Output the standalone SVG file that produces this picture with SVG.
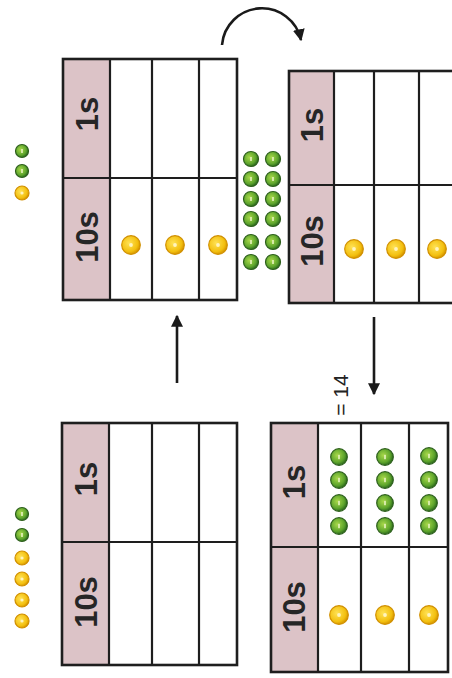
<svg xmlns="http://www.w3.org/2000/svg" width="452" height="678" viewBox="0 0 452 678">
<style>
.hdr{fill:#dcc3c7}
.body{fill:#ffffff}
.ln{stroke:#1e1e1e;stroke-width:2.2;fill:none}
.out{stroke:#1e1e1e;stroke-width:2.6;fill:none}
.lbl{font-family:"Liberation Sans",Arial,sans-serif;font-weight:bold;font-size:31px;fill:#262626;text-anchor:middle}
.eq{font-family:"Liberation Sans",Arial,sans-serif;font-size:21px;fill:#222;text-anchor:middle}
.arr{stroke:#1a1a1a;stroke-width:2.6;fill:none}
.gd{fill:url(#gg);stroke:#2d5f1c;stroke-width:1.2}
.yd{fill:url(#yg);stroke:#d08f00;stroke-width:1.2}
.gm{fill:#e8f3c0}
.ym{fill:#fff4c0}
</style>
<defs>
<radialGradient id="gg" cx="0.4" cy="0.4" r="0.6">
<stop offset="0" stop-color="#a8d84a"/>
<stop offset="0.7" stop-color="#5ea52c"/>
<stop offset="1" stop-color="#2f6e1e"/>
</radialGradient>
<radialGradient id="yg" cx="0.4" cy="0.4" r="0.6">
<stop offset="0" stop-color="#ffe255"/>
<stop offset="0.75" stop-color="#f3c010"/>
<stop offset="1" stop-color="#d99a00"/>
</radialGradient>
<g id="gS"><circle class="gd" r="6.5"/><rect class="gm" x="-0.8" y="-2" width="1.6" height="4"/></g>
<g id="gM"><circle class="gd" r="7.5"/><rect class="gm" x="-0.8" y="-2" width="1.6" height="4"/></g>
<g id="gL"><circle class="gd" r="8.3"/><rect class="gm" x="-0.8" y="-2.2" width="1.6" height="4.4"/></g>
<g id="yS"><circle class="yd" r="7"/><circle class="ym" r="1.6"/></g>
<g id="yL"><circle class="yd" r="9.3"/><circle class="ym" r="1.9"/></g>
<marker id="ah" markerUnits="userSpaceOnUse" markerWidth="12" markerHeight="12" refX="9" refY="5" orient="auto" viewBox="0 0 10 10">
<path d="M0,0 L10,5 L0,10 Z" fill="#1a1a1a"/>
</marker>
</defs>
<rect width="452" height="678" fill="#ffffff"/>

<g id="connectors">
<path class="arr" d="M222,45 A40,40 0 0 1 301,40" marker-end="url(#ah)"/>
<line class="arr" x1="177" y1="383" x2="177" y2="316" marker-end="url(#ah)"/>
<line class="arr" x1="374" y1="317" x2="374" y2="394" marker-end="url(#ah)"/>
</g>

<g id="loose-top">
<use href="#gS" x="22" y="151"/>
<use href="#gS" x="22" y="171"/>
<use href="#yS" x="22" y="193"/>
</g>

<g id="loose-bottom">
<use href="#gS" x="22" y="514"/>
<use href="#gS" x="22" y="535"/>
<use href="#yS" x="22" y="558"/>
<use href="#yS" x="22" y="579"/>
<use href="#yS" x="22" y="600"/>
<use href="#yS" x="22" y="621"/>
</g>

<g id="table-top-left">
<rect class="hdr" x="63" y="59" width="47" height="241"/>
<rect class="body" x="110" y="59" width="127" height="241"/>
<line class="ln" x1="63" y1="178" x2="237" y2="178"/>
<line class="ln" x1="110" y1="59" x2="110" y2="300"/>
<line class="ln" x1="152" y1="59" x2="152" y2="300"/>
<line class="ln" x1="199" y1="59" x2="199" y2="300"/>
<rect class="out" x="63" y="59" width="174" height="241"/>
<text class="lbl" transform="translate(87,114) rotate(-90)" dy="0.36em">1s</text>
<text class="lbl" transform="translate(87,237) rotate(-90)" dy="0.36em">10s</text>
<use href="#yL" x="131" y="245"/>
<use href="#yL" x="175" y="245"/>
<use href="#yL" x="218" y="245"/>
</g>

<g id="loose-middle">
<use href="#gM" x="251" y="159"/>
<use href="#gM" x="251" y="179"/>
<use href="#gM" x="251" y="199"/>
<use href="#gM" x="251" y="219"/>
<use href="#gM" x="251" y="242"/>
<use href="#gM" x="251" y="262"/>
<use href="#gM" x="273" y="159"/>
<use href="#gM" x="273" y="179"/>
<use href="#gM" x="273" y="199"/>
<use href="#gM" x="273" y="219"/>
<use href="#gM" x="273" y="242"/>
<use href="#gM" x="273" y="262"/>
</g>

<g id="table-top-right">
<rect class="hdr" x="289" y="71" width="45" height="232"/>
<rect class="body" x="334" y="71" width="131" height="232"/>
<line class="ln" x1="289" y1="185" x2="465" y2="185"/>
<line class="ln" x1="334" y1="71" x2="334" y2="303"/>
<line class="ln" x1="374" y1="71" x2="374" y2="303"/>
<line class="ln" x1="419" y1="71" x2="419" y2="303"/>
<rect class="out" x="289" y="71" width="176" height="232"/>
<text class="lbl" transform="translate(312,125) rotate(-90)" dy="0.36em">1s</text>
<text class="lbl" transform="translate(312,241) rotate(-90)" dy="0.36em">10s</text>
<use href="#yL" x="354" y="249"/>
<use href="#yL" x="396" y="249"/>
<use href="#yL" x="437" y="249"/>
</g>

<g id="table-bottom-left">
<rect class="hdr" x="62" y="423" width="47" height="242"/>
<rect class="body" x="109" y="423" width="128" height="242"/>
<line class="ln" x1="62" y1="542" x2="237" y2="542"/>
<line class="ln" x1="109" y1="423" x2="109" y2="665"/>
<line class="ln" x1="152" y1="423" x2="152" y2="665"/>
<line class="ln" x1="199" y1="423" x2="199" y2="665"/>
<rect class="out" x="62" y="423" width="175" height="242"/>
<text class="lbl" transform="translate(86,479) rotate(-90)" dy="0.36em">1s</text>
<text class="lbl" transform="translate(86,602) rotate(-90)" dy="0.36em">10s</text>
</g>

<g id="table-bottom-right">
<rect class="hdr" x="271" y="423" width="47" height="249"/>
<rect class="body" x="318" y="423" width="130" height="249"/>
<line class="ln" x1="271" y1="547" x2="448" y2="547"/>
<line class="ln" x1="318" y1="423" x2="318" y2="672"/>
<line class="ln" x1="361" y1="423" x2="361" y2="672"/>
<line class="ln" x1="409" y1="423" x2="409" y2="672"/>
<rect class="out" x="271" y="423" width="177" height="249"/>
<text class="lbl" transform="translate(294,482) rotate(-90)" dy="0.36em">1s</text>
<text class="lbl" transform="translate(294,607) rotate(-90)" dy="0.36em">10s</text>
<use href="#gL" x="339" y="457"/>
<use href="#gL" x="339" y="480"/>
<use href="#gL" x="339" y="503"/>
<use href="#gL" x="339" y="526"/>
<use href="#gL" x="385" y="457"/>
<use href="#gL" x="385" y="480"/>
<use href="#gL" x="385" y="503"/>
<use href="#gL" x="385" y="526"/>
<use href="#gL" x="429" y="456"/>
<use href="#gL" x="429" y="480"/>
<use href="#gL" x="429" y="503"/>
<use href="#gL" x="429" y="526"/>
<use href="#yL" x="339" y="615"/>
<use href="#yL" x="385" y="615"/>
<use href="#yL" x="429" y="615"/>
</g>

<g id="label-eq">
<text class="eq" transform="translate(341,395) rotate(-90)" dy="0.35em">= 14</text>
</g>
</svg>
